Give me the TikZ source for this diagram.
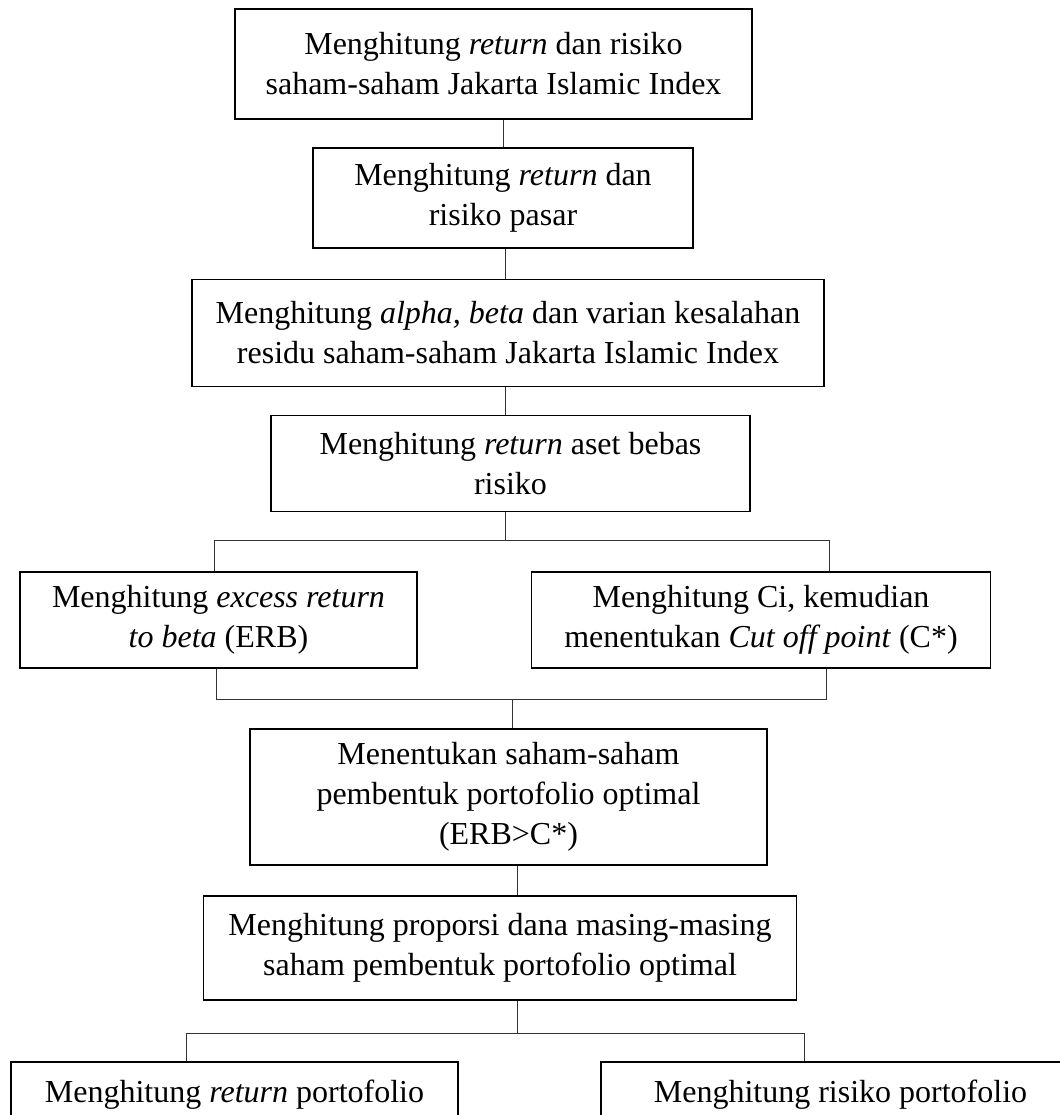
\documentclass[tikz,border=0pt]{standalone}
\usepackage{fontspec}
\setmainfont{Liberation Serif}
\usetikzlibrary{positioning}

\begin{document}
\begin{tikzpicture}[
  x=0.5pt, y=-0.5pt,
  font=\fontsize{16}{20}\selectfont,
  stage/.style={rectangle, draw, line width=0.7pt, align=center, inner sep=2pt},
  wire/.style={line width=0.5pt, black!80},
]
\useasboundingbox (0,0) rectangle (1060,1115);
\clip (0,0) rectangle (1060,1115);

\node[stage, minimum width=258.5pt, minimum height=55pt] (RR) at (493.5,64)
  {Menghitung \textit{return} dan risiko\\ saham-saham Jakarta Islamic Index};
\node[stage, minimum width=190pt, minimum height=50pt] (RP) at (503,198)
  {Menghitung \textit{return} dan\\ risiko pasar};
\node[stage, minimum width=316pt, minimum height=53.5pt] (AB) at (508,333)
  {Menghitung \textit{alpha, beta} dan varian kesalahan\\ residu saham-saham Jakarta Islamic Index};
\node[stage, minimum width=239.5pt, minimum height=48pt] (RF) at (510.5,463.5)
  {Menghitung \textit{return} aset bebas\\ risiko};
\node[stage, minimum width=198.5pt, minimum height=48pt] (ER) at (218.5,620)
  {Menghitung \textit{excess return}\\ \textit{to beta} (ERB)};
\node[stage, minimum width=229.5pt, minimum height=48pt] (CO) at (761,620)
  {Menghitung Ci, kemudian\\ menentukan \textit{Cut off point} (C*)};
\node[stage, minimum width=258.5pt, minimum height=68pt] (SO) at (508.5,797)
  {Menentukan saham-saham\\ pembentuk portofolio optimal\\ (ERB>C*)};
\node[stage, minimum width=296.5pt, minimum height=52pt] (PD) at (500,948)
  {Menghitung proporsi dana masing-masing\\ saham pembentuk portofolio optimal};
\node[stage, minimum width=223.5pt, minimum height=33pt] (PR) at (234.5,1095)
  {Menghitung \textit{return} portofolio};
\node[stage, minimum width=239.5pt, minimum height=33pt] (PK) at (840.5,1095)
  {Menghitung risiko portofolio};

% fork and join points
\coordinate (s1) at (505,540);
\coordinate (s1l) at (214,540);
\coordinate (s1r) at (829,540);
\coordinate (s2) at (512,699);
\coordinate (s2l) at (216,699);
\coordinate (s2r) at (826,699);
\coordinate (s3) at (517,1033);
\coordinate (s3l) at (186,1033);
\coordinate (s3r) at (804,1033);

\draw[wire] (RR.south -| RP.north) -- (RP.north);
\draw[wire] (RP.south -| s1) -- (AB.north -| s1);
\draw[wire] (AB.south -| s1) -- (RF.north -| s1);
\draw[wire] (RF.south -| s1) -- (s1);
\draw[wire] (ER.north -| s1l) -- (s1l) -- (s1r) -- (CO.north -| s1r);
\draw[wire] (ER.south -| s2l) -- (s2l) -- (s2r) -- (CO.south -| s2r);
\draw[wire] (s2) -- (SO.north -| s2);
\draw[wire] (SO.south -| s3) -- (PD.north -| s3);
\draw[wire] (PD.south -| s3) -- (s3);
\draw[wire] (PR.north -| s3l) -- (s3l) -- (s3r) -- (PK.north -| s3r);

\end{tikzpicture}
\end{document}
